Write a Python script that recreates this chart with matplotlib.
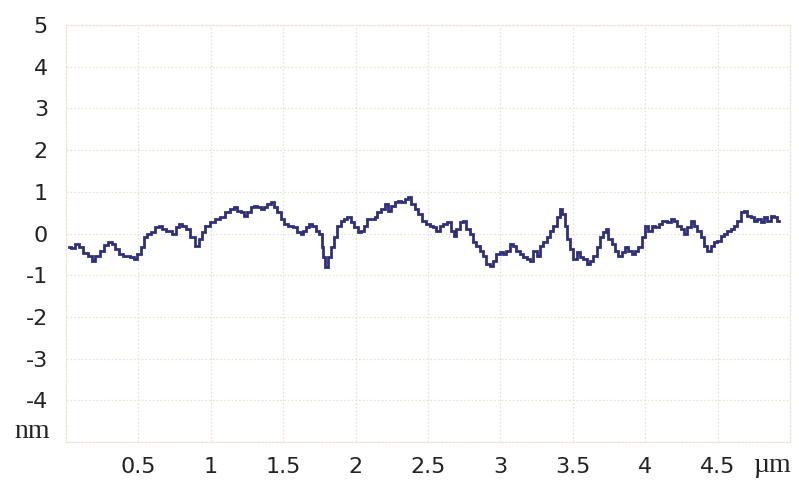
import matplotlib
matplotlib.use("Agg")
import matplotlib.pyplot as plt

# Surface height profile along the scan line
position_um = [
    0.019, 0.053, 0.076, 0.099, 0.134, 0.168, 0.192, 0.215, 0.249, 0.273,
    0.307, 0.330, 0.353, 0.376, 0.411, 0.434, 0.457, 0.480, 0.504, 0.527,
    0.550, 0.573, 0.596, 0.631, 0.654, 0.677, 0.700, 0.723, 0.746, 0.769,
    0.792, 0.816, 0.839, 0.880, 0.908, 0.929, 0.949, 0.977, 1.012, 1.046,
    1.081, 1.116, 1.150, 1.171, 1.192, 1.220, 1.240, 1.261, 1.289, 1.310,
    1.331, 1.358, 1.379, 1.400, 1.428, 1.448, 1.469, 1.497, 1.518, 1.552,
    1.587, 1.608, 1.635, 1.642, 1.670, 1.691, 1.712, 1.739, 1.760, 1.774,
    1.781, 1.802, 1.816, 1.843, 1.864, 1.885, 1.913, 1.933, 1.954, 1.982,
    2.003, 2.024, 2.051, 2.072, 2.093, 2.121, 2.141, 2.162, 2.190, 2.211,
    2.231, 2.259, 2.280, 2.301, 2.328, 2.349, 2.370, 2.398, 2.419, 2.439,
    2.474, 2.502, 2.523, 2.543, 2.571, 2.592, 2.613, 2.647, 2.675, 2.682,
    2.710, 2.730, 2.751, 2.779, 2.800, 2.821, 2.848, 2.869, 2.890, 2.918,
    2.938, 2.959, 2.987, 3.008, 3.028, 3.056, 3.077, 3.098, 3.125, 3.146,
    3.167, 3.195, 3.216, 3.236, 3.264, 3.285, 3.306, 3.333, 3.354, 3.375,
    3.403, 3.417, 3.437, 3.451, 3.472, 3.493, 3.514, 3.541, 3.562, 3.583,
    3.611, 3.631, 3.652, 3.680, 3.701, 3.721, 3.735, 3.756, 3.784, 3.805,
    3.825, 3.853, 3.874, 3.895, 3.922, 3.943, 3.964, 3.992, 4.013, 4.033,
    4.061, 4.082, 4.103, 4.137, 4.165, 4.186, 4.207, 4.234, 4.255, 4.276,
    4.304, 4.324, 4.345, 4.373, 4.394, 4.414, 4.442, 4.463, 4.484, 4.511,
    4.532, 4.553, 4.581, 4.602, 4.622, 4.650, 4.671, 4.692, 4.719, 4.740,
    4.761, 4.789, 4.809, 4.830, 4.858, 4.879, 4.900, 4.927,
]
height_nm = [
    -0.33, -0.35, -0.25, -0.33, -0.47, -0.54, -0.66, -0.54, -0.42, -0.28,
    -0.20, -0.25, -0.37, -0.49, -0.54, -0.54, -0.57, -0.61, -0.49, -0.33,
    -0.08, -0.01, 0.04, 0.16, 0.18, 0.11, 0.06, 0.06, -0.01, 0.16,
    0.23, 0.18, 0.11, -0.08, -0.30, -0.13, 0.04, 0.18, 0.28, 0.35,
    0.40, 0.52, 0.59, 0.64, 0.54, 0.52, 0.42, 0.52, 0.64, 0.66,
    0.64, 0.59, 0.64, 0.71, 0.76, 0.64, 0.52, 0.35, 0.23, 0.18,
    0.16, 0.04, -0.01, 0.06, 0.16, 0.23, 0.18, 0.06, -0.01, -0.33,
    -0.57, -0.81, -0.57, -0.33, -0.08, 0.18, 0.30, 0.35, 0.40, 0.28,
    0.16, 0.04, 0.06, 0.18, 0.35, 0.35, 0.40, 0.52, 0.59, 0.71,
    0.54, 0.66, 0.76, 0.78, 0.76, 0.83, 0.88, 0.71, 0.59, 0.47,
    0.30, 0.23, 0.18, 0.16, 0.06, 0.18, 0.23, 0.28, 0.06, -0.06,
    0.11, 0.28, 0.30, 0.11, -0.01, -0.20, -0.30, -0.42, -0.54, -0.73,
    -0.78, -0.66, -0.49, -0.45, -0.49, -0.42, -0.25, -0.30, -0.42, -0.49,
    -0.57, -0.61, -0.66, -0.42, -0.54, -0.30, -0.20, -0.08, 0.06, 0.18,
    0.40, 0.59, 0.47, 0.18, -0.13, -0.37, -0.61, -0.45, -0.57, -0.61,
    -0.73, -0.66, -0.54, -0.33, -0.08, 0.04, 0.11, -0.13, -0.25, -0.42,
    -0.54, -0.45, -0.33, -0.42, -0.49, -0.42, -0.33, -0.08, 0.18, 0.06,
    0.18, 0.16, 0.23, 0.30, 0.28, 0.35, 0.30, 0.18, 0.11, -0.01,
    0.16, 0.30, 0.18, 0.06, -0.08, -0.30, -0.42, -0.30, -0.20, -0.18,
    -0.06, -0.01, 0.06, 0.11, 0.18, 0.30, 0.52, 0.54, 0.42, 0.40,
    0.30, 0.35, 0.28, 0.40, 0.30, 0.42, 0.40, 0.30,
]

x_ticks = [0.5, 1, 1.5, 2, 2.5, 3, 3.5, 4, 4.5]
x_tick_labels = ["0.5", "1", "1.5", "2", "2.5", "3", "3.5", "4", "4.5"]
y_ticks = [-4, -3, -2, -1, 0, 1, 2, 3, 4, 5]
y_tick_labels = ["-4", "-3", "-2", "-1", "0", "1", "2", "3", "4", "5"]

fig = plt.figure(figsize=(7.99, 4.83), dpi=100)
ax = fig.add_axes([0.0826, 0.085, 0.906, 0.863])

ax.plot(position_um, height_nm, color="#2f2f7c", linewidth=2.0,
        drawstyle="steps-mid", solid_joinstyle="miter", zorder=3)

ax.set_xlim(0, 5)
ax.set_ylim(-5, 5)
ax.set_xticks(x_ticks)
ax.set_xticklabels(x_tick_labels)
ax.set_yticks(y_ticks)
ax.set_yticklabels(y_tick_labels)
ax.tick_params(length=0, labelsize=16, colors="#222222")
ax.tick_params(axis="x", pad=11)
ax.tick_params(axis="y", pad=13)

grid_color = "#e9e3d6"
ax.grid(True, color=grid_color, linestyle=(0, (1.5, 1.5)), linewidth=0.9)
for side in ("left", "right", "top", "bottom"):
    ax.spines[side].set_color(grid_color)
    ax.spines[side].set_linestyle((0, (1.5, 1.5)))
    ax.spines[side].set_linewidth(0.9)

# Axis unit labels
fig.text(32 / 799, 1 - 431 / 483, "nm", fontsize=20, family="Liberation Serif",
         ha="center", va="center", color="#222222")
fig.text(772 / 799, 1 - 465 / 483, "\u00b5m", fontsize=20, family="Liberation Serif",
         ha="center", va="center", color="#222222")

fig.savefig("out.png", dpi=100, facecolor="white")
